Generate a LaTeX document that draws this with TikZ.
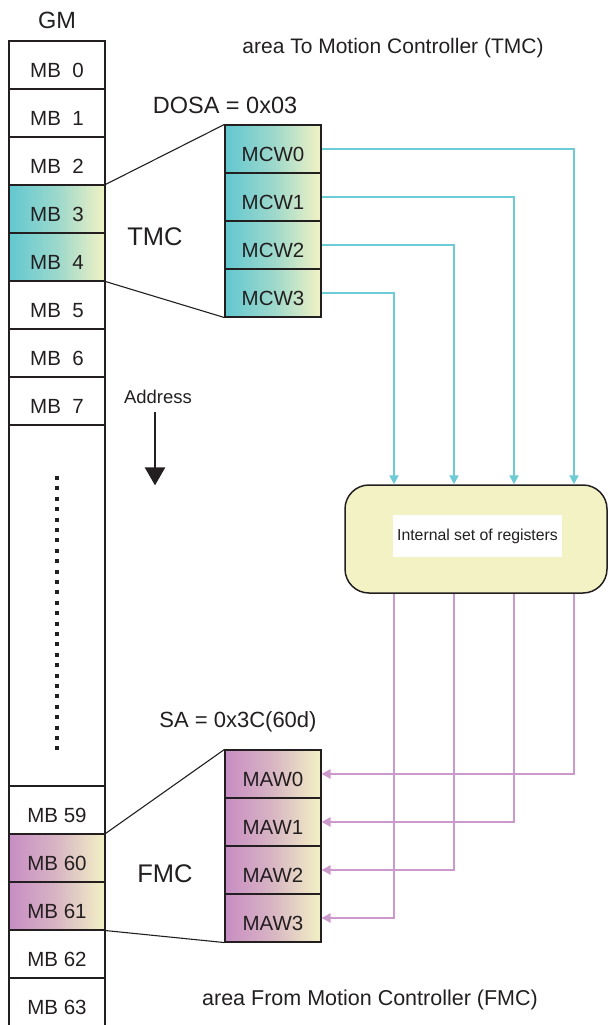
\documentclass[tikz,border=0pt]{standalone}
\usepackage{fontspec}
\setmainfont{Liberation Sans}
\usetikzlibrary{arrows.meta}
\definecolor{tmccol}{HTML}{62C7D0}
\definecolor{fmccol}{HTML}{C78DC3}
\definecolor{regcol}{HTML}{F2F2C4}
\definecolor{tmcline}{HTML}{6CCBD5}
\definecolor{fmcline}{HTML}{CC99CC}
\definecolor{inkcol}{HTML}{231F20}

\begin{document}
\begin{tikzpicture}[x=1pt,y=-1pt,
  cell/.style={draw=inkcol,line width=1.1pt,minimum width=96pt,minimum height=48pt,
    inner sep=0pt,text height=25pt,text depth=0pt,text=inkcol,font=\fontsize{20.5}{24}\selectfont},
  tmccell/.style={cell,left color=tmccol,right color=regcol,middle color=tmccol!60!regcol},
  fmccell/.style={cell,left color=fmccol,right color=regcol,middle color=fmccol!60!regcol},
  lbl/.style={anchor=base,inner sep=0pt,text=inkcol},
  zoomline/.style={inkcol,line width=1.1pt},
  tmcwire/.style={tmcline,line width=2.4pt,-{Triangle[width=9pt,length=9pt]}},
  fmcwire/.style={fmcline,line width=2.6pt,-{Triangle[width=9pt,length=9pt]}}]
  \useasboundingbox (0,0) rectangle (608,1025);

% global memory column
  \node[lbl,font=\fontsize{23.5}{28}\selectfont] (gm) at (57,29) {GM};
  \node[cell] (mb0) at (57,65) {MB\ \ 0};
  \node[cell] (mb1) at (57,113) {MB\ \ 1};
  \node[cell] (mb2) at (57,161) {MB\ \ 2};
  \node[tmccell] (mb3) at (57,209) {MB\ \ 3};
  \node[tmccell] (mb4) at (57,257) {MB\ \ 4};
  \node[cell] (mb5) at (57,305) {MB\ \ 5};
  \node[cell] (mb6) at (57,353) {MB\ \ 6};
  \node[cell] (mb7) at (57,401) {MB\ \ 7};
  \node[cell,minimum height=361pt] (gap) at (57,605.5) {};
  \node[cell] (mb59) at (57,810) {MB 59};
  \node[fmccell] (mb60) at (57,858) {MB 60};
  \node[fmccell] (mb61) at (57,906) {MB 61};
  \node[cell] (mb62) at (57,954) {MB 62};
  \node[cell] (mb63) at (57,1002) {MB 63};
  \draw[inkcol,line width=4pt,dash pattern=on 4pt off 6.4pt] (57,476) -- (57,750);

% address arrow
  \node[lbl,font=\fontsize{18.5}{22}\selectfont] (addr) at (158,403) {Address};
  \draw[inkcol,line width=2.5pt,-{Triangle[width=20pt,length=18pt]}]
    ([xshift=-3pt,yshift=-9pt]addr.south) -- ([xshift=-3pt,yshift=-82pt]addr.south);

% TMC area
  \node[lbl,font=\fontsize{21}{25}\selectfont] (tmcarea) at (393,53.5) {area To Motion Controller (TMC)};
  \node[lbl,font=\fontsize{23.5}{28}\selectfont] (dosa) at (225,113) {DOSA = 0x03};
  \node[lbl,font=\fontsize{25.5}{30}\selectfont] (tmc) at (155,245) {TMC};
  \node[tmccell] (mcw0) at (273,149) {MCW0};
  \node[tmccell] (mcw1) at (273,197) {MCW1};
  \node[tmccell] (mcw2) at (273,245) {MCW2};
  \node[tmccell] (mcw3) at (273,293) {MCW3};
  \draw[zoomline] (mb3.north east) -- (mcw0.north west);
  \draw[zoomline] (mb4.south east) -- (mcw3.south west);

% registers
  \node[draw=inkcol,line width=1.5pt,fill=regcol,rounded corners=24pt,
        minimum width=262pt,minimum height=108pt] (reg) at (476,539) {};
  \node[fill=white,minimum width=169pt,minimum height=42pt,inner sep=0pt,
        text=inkcol,font=\fontsize{15.8}{19}\selectfont] (regtxt) at (477.5,536) {Internal set of registers};
  \draw[tmcwire] (mcw0.east) -| ([xshift=98pt]reg.north);
  \draw[tmcwire] (mcw1.east) -| ([xshift=38pt]reg.north);
  \draw[tmcwire] (mcw2.east) -| ([xshift=-22pt]reg.north);
  \draw[tmcwire] (mcw3.east) -| ([xshift=-82pt]reg.north);

% FMC area
  \node[lbl,font=\fontsize{22}{26}\selectfont] (sa) at (238,727) {SA = 0x3C(60d)};
  \node[lbl,font=\fontsize{25.5}{30}\selectfont] (fmc) at (165,882) {FMC};
  \node[fmccell] (maw0) at (273,774) {MAW0};
  \node[fmccell] (maw1) at (273,822) {MAW1};
  \node[fmccell] (maw2) at (273,870) {MAW2};
  \node[fmccell] (maw3) at (273,918) {MAW3};
  \draw[zoomline] (mb60.north east) -- (maw0.north west);
  \draw[zoomline] (mb61.south east) -- (maw3.south west);
  \draw[fmcwire] ([xshift=98pt]reg.south) |- (maw0.east);
  \draw[fmcwire] ([xshift=38pt]reg.south) |- (maw1.east);
  \draw[fmcwire] ([xshift=-22pt]reg.south) |- (maw2.east);
  \draw[fmcwire] ([xshift=-82pt]reg.south) |- (maw3.east);
  \node[lbl,font=\fontsize{21.5}{26}\selectfont] (fmcarea) at (370,1005) {area From Motion Controller (FMC)};
\end{tikzpicture}
\end{document}
